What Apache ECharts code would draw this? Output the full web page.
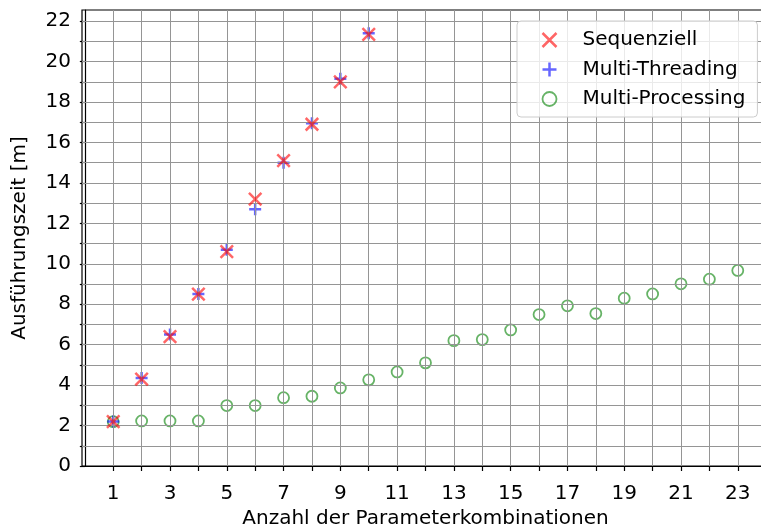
<!DOCTYPE html>
<html>
<head>
<meta charset="utf-8">
<script src="https://cdn.jsdelivr.net/npm/echarts@6/dist/echarts.min.js"></script>
<style>html,body{margin:0;padding:0;background:#fff}#c{width:761px;height:529px}</style>
</head>
<body>
<div id="c"></div>
<script>
// Data
const xSeq = [1,2,3,4,5,6,7,8,9,10];
const ySeq = [2.2,4.3,6.4,8.5,10.6,13.2,15.1,16.9,19.0,21.35];
const xMT = [1,2,3,4,5,6,7,8,9,10];
const yMT = [2.2,4.35,6.5,8.5,10.7,12.7,15.0,16.95,19.15,21.4];
const xMP = [1,2,3,4,5,6,7,8,9,10,11,12,13,14,15,16,17,18,19,20,21,22,23];
const yMP = [2.19,2.23,2.23,2.23,2.99,2.99,3.38,3.45,3.86,4.26,4.65,5.10,6.20,6.25,6.73,7.49,7.92,7.54,8.30,8.51,9.01,9.24,9.67];
const seriesNames = ['Sequenziell','Multi-Threading','Multi-Processing'];
const xTickValues = [1,2,3,4,5,6,7,8,9,10,11,12,13,14,15,16,17,18,19,20,21,22,23,24];
const xLabelValues = [1,3,5,7,9,11,13,15,17,19,21,23];
const yTickValues = [0,1,2,3,4,5,6,7,8,9,10,11,12,13,14,15,16,17,18,19,20,21,22];
const yLabelValues = [0,2,4,6,8,10,12,14,16,18,20,22];
const xTitle = 'Anzahl der Parameterkombinationen';
const yTitle = 'Ausführungszeit [m]';

const FONT = 'DejaVu Sans';
const FS = 20;
const crossPath = 'path://M0,0L10,10M10,0L0,10';
const plusPath = 'path://M5,0L5,10M0,5L10,5';
const cRed = 'rgba(255,0,0,0.75)';
const cBlue = 'rgba(0,0,255,0.75)';
const cGreen = 'rgba(0,128,0,0.75)';

const zip = (xs, ys) => xs.map((x, i) => [x, ys[i]]);

const chart = echarts.init(document.getElementById('c'), null, {renderer: 'canvas'});
const gridLineStyle = {color: '#959595', width: 1, type: 'solid'};
chart.setOption({
  animation: false,
  textStyle: {fontFamily: FONT},
  grid: {left: 82, top: 10, width: 687, height: 456, outerBoundsMode: 'none', containLabel: false,
         show: true, borderColor: '#000', borderWidth: 1.2, backgroundColor: 'transparent'},
  xAxis: {
    type: 'value', min: -0.1, max: 24.1,
    name: xTitle, nameLocation: 'middle', nameGap: 43,
    nameTextStyle: {fontFamily: FONT, fontSize: FS, color: '#000'},
    axisLine: {show: true, lineStyle: {color: '#000', width: 1.2}},
    axisTick: {show: true, customValues: xTickValues, length: 5, lineStyle: {color: '#000', width: 1.2}},
    axisLabel: {customValues: xLabelValues, fontFamily: FONT, fontSize: FS, color: '#000', margin: 18},
    splitLine: {show: false}
  },
  yAxis: {
    type: 'value', min: 0, max: 22.55,
    name: yTitle, nameLocation: 'middle', nameGap: 52,
    nameTextStyle: {fontFamily: FONT, fontSize: FS, color: '#000'},
    axisLine: {show: true, lineStyle: {color: '#000', width: 1.2}},
    axisTick: {show: true, customValues: yTickValues, length: 5, lineStyle: {color: '#000', width: 1.2}},
    axisLabel: {customValues: yLabelValues, fontFamily: FONT, fontSize: FS, color: '#000', margin: 11},
    splitLine: {show: false}
  },
  legend: {
    orient: 'vertical', left: 517, top: 21, z: 20,
    padding: [9, 12, 8, 23], itemGap: 9.5,
    itemWidth: 14, itemHeight: 14,
    backgroundColor: 'rgba(255,255,255,0.8)', borderColor: '#cccccc', borderWidth: 1, borderRadius: 4,
    textStyle: {fontFamily: FONT, fontSize: FS, color: '#000', padding: [0, 0, 0, 21]},
    data: [
      {name: seriesNames[0], icon: crossPath, itemStyle: {color: 'none', borderColor: cRed, borderWidth: 2.5}},
      {name: seriesNames[1], icon: plusPath, itemStyle: {color: 'none', borderColor: cBlue, borderWidth: 2.5}},
      {name: seriesNames[2], icon: 'circle', itemStyle: {color: 'none', borderColor: cGreen, borderWidth: 1.8}}
    ]
  },
  series: [
    {
      name: '_grid', type: 'scatter', data: [], z: 1, silent: true,
      markLine: {
        silent: true, symbol: 'none', label: {show: false}, animation: false,
        lineStyle: gridLineStyle,
        emphasis: {disabled: true},
        data: xTickValues.map(v => ({xAxis: v})).concat(yTickValues.filter(v => v > 0).map(v => ({yAxis: v})))
      }
    },
    {
      name: seriesNames[2], type: 'scatter', z: 3, data: zip(xMP, yMP),
      symbol: 'circle', symbolSize: 11,
      itemStyle: {color: 'rgba(0,0,0,0)', borderColor: cGreen, borderWidth: 1.8}
    },
    {
      name: seriesNames[1], type: 'scatter', z: 4, data: zip(xMT, yMT),
      symbol: plusPath, symbolSize: 12,
      itemStyle: {color: 'none', borderColor: cBlue, borderWidth: 2.5}
    },
    {
      name: seriesNames[0], type: 'scatter', z: 5, data: zip(xSeq, ySeq),
      symbol: crossPath, symbolSize: 12.5,
      itemStyle: {color: 'none', borderColor: cRed, borderWidth: 2.5}
    }
  ]
});
</script>
</body>
</html>
